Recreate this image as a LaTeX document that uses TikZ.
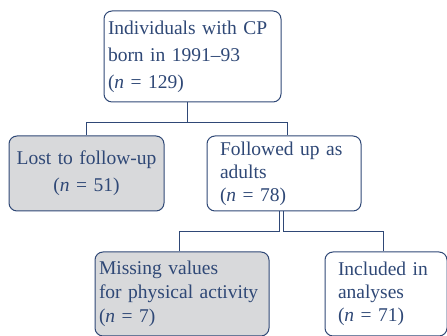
\documentclass[tikz,border=0pt]{standalone}
\usepackage{fontspec}
\setmainfont{Liberation Serif}
\usepackage{tikz}
\usetikzlibrary{calc}

\definecolor{navy}{RGB}{47,72,118}
\definecolor{boxgray}{RGB}{216,217,219}

\newcommand{\nval}[1]{(\textit{n} = #1)}

\begin{document}
\begin{tikzpicture} [x=1pt, y=1pt,
	every node/.style={text=navy, font=\fontsize{19.5}{24}\selectfont},
	flowbox/.style={draw=navy, line width=1pt, rounded corners=8pt, align=left},
	lostbox/.style={flowbox, fill=boxgray},
	link/.style={draw=navy, line width=1pt}]
	% frame of the figure
	\useasboundingbox (0,0) rectangle (447,336);
	
	\node[flowbox, inner xsep=4pt, text width=169pt, minimum height=91pt,
	font=\fontsize{19.5}{27}\selectfont] (cohort) at (192.5,279.5)
	{\mbox{Individuals with CP}\\\mbox{born in 1991--93}\\\nval{129}};
	
	\node[lostbox, align=center, inner xsep=4pt, text width=147pt, minimum height=75pt,
	font=\fontsize{19.5}{27}\selectfont] (lost) at (86.5,162.5)
	{\mbox{Lost to follow-up}\\\nval{51}};
	\node[flowbox, inner xsep=13pt, text width=128pt, minimum height=75pt,
	font=\fontsize{19.5}{23}\selectfont] (followed) at (284,162.5)
	{\mbox{Followed up as}\\adults\\\nval{78}};
	
	\node[lostbox, inner xsep=4pt, text width=166pt, minimum height=84pt] (missing) at (182,42)
	{\mbox{Missing values}\\\mbox{for physical activity}\\\nval{7}};
	\node[flowbox, inner xsep=13pt, text width=96pt, minimum height=84pt,
	font=\fontsize{19.5}{23}\selectfont] (included) at (386,42)
	{\mbox{Included in}\\analyses\\\nval{71}};
	
	% connectors
	\draw[link] ([xshift=-5.5pt]cohort.south) -- ++(0,-20pt) coordinate (split)
	-| (lost.north);
	\draw[link] (split) -| ([xshift=3pt]followed.north);
	\draw[link] ([xshift=-4.5pt]followed.south) -- ++(0,-20pt) -| ([xshift=-3pt]missing.north);
	\draw[link] ([xshift=-0.5pt]followed.south) -- ++(0,-20pt) -| ([xshift=-3pt]included.north);
	
\end{tikzpicture}
\end{document}
